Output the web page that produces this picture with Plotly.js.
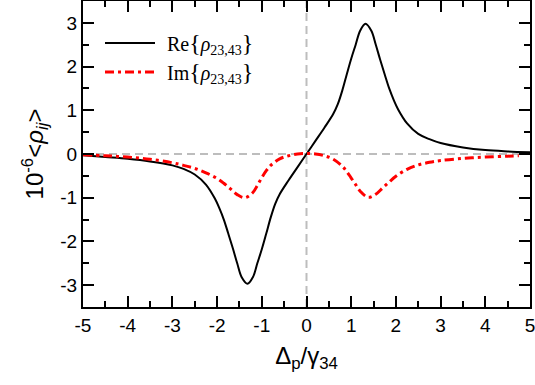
<!DOCTYPE html>
<html>
<head>
<meta charset="utf-8">
<script src="https://cdn.plot.ly/plotly-3.0.1.min.js"></script>
<style>
html,body{margin:0;padding:0;background:#fff;}
#chart{width:535px;height:385px;}
</style>
</head>
<body>
<div id="chart"></div>
<script>
// Detuning Δp/γ34 and real part of ρ23,43 (units 1e-6)
const reX = [-5, -4.5, -4, -3.5, -3, -2.75, -2.5, -2.25, -2.05, -1.95, -1.85, -1.75, -1.65, -1.55, -1.45, -1.32, -1.2, -1.1, -1.0, -0.9, -0.8, -0.7, -0.6, -0.4, -0.2, 0, 0.2, 0.4, 0.6, 0.7, 0.8, 0.9, 1.0, 1.1, 1.2, 1.32, 1.45, 1.55, 1.65, 1.75, 1.85, 1.95, 2.05, 2.25, 2.5, 2.75, 3, 3.5, 4, 4.5, 5];
const reY = [-0.03, -0.07, -0.11, -0.17, -0.26, -0.34, -0.47, -0.70, -1.02, -1.24, -1.50, -1.82, -2.15, -2.50, -2.82, -2.97, -2.82, -2.50, -2.18, -1.82, -1.45, -1.14, -0.92, -0.60, -0.30, 0, 0.30, 0.60, 0.92, 1.14, 1.45, 1.82, 2.18, 2.50, 2.82, 2.98, 2.82, 2.50, 2.15, 1.82, 1.50, 1.24, 1.02, 0.70, 0.46, 0.34, 0.25, 0.15, 0.09, 0.06, 0.04];

// Imaginary part of ρ23,43 (units 1e-6)
const imX = [-5, -4.5, -4, -3.5, -3, -2.75, -2.5, -2.25, -2.0, -1.85, -1.7, -1.55, -1.38, -1.2, -1.1, -1.0, -0.9, -0.8, -0.6, -0.4, -0.2, 0, 0.2, 0.4, 0.6, 0.8, 0.9, 1.0, 1.1, 1.2, 1.38, 1.55, 1.7, 1.85, 2.0, 2.25, 2.5, 2.75, 3.0, 3.5, 4.0, 4.5, 4.75];
const imY = [-0.02, -0.04, -0.07, -0.12, -0.20, -0.26, -0.33, -0.43, -0.56, -0.67, -0.80, -0.93, -1.00, -0.88, -0.72, -0.54, -0.38, -0.26, -0.11, -0.04, 0.0, 0.01, 0.0, -0.04, -0.12, -0.28, -0.40, -0.55, -0.70, -0.85, -0.99, -0.92, -0.78, -0.64, -0.51, -0.35, -0.25, -0.19, -0.15, -0.10, -0.07, -0.05, -0.04];

const xTickVals = [-5, -4, -3, -2, -1, 0, 1, 2, 3, 4, 5];
const xTickText = ['-5', '-4', '-3', '-2', '-1', '0', '1', '2', '3', '4', '5'];
const yTickVals = [-3, -2, -1, 0, 1, 2, 3];
const yTickText = ['-3', '-2', '-1', '0', '1', '2', '3'];

const reName = 'Re<span style="font-size:24px">{</span><i>ρ</i><sub>23,43</sub><span style="font-size:24px">}</span>';
const imName = 'Im<span style="font-size:24px">{</span><i>ρ</i><sub>23,43</sub><span style="font-size:24px">}</span>';

const traces = [
  {x: reX, y: reY, type: 'scatter', mode: 'lines', name: reName,
   line: {color: '#000000', width: 2, shape: 'spline', smoothing: 1}},
  {x: imX, y: imY, type: 'scatter', mode: 'lines', name: imName,
   line: {color: '#ff0000', width: 3, dash: '9px,4px,3px,4px', shape: 'spline', smoothing: 1}}
];

const axisCommon = {
  showline: true, linecolor: '#000', linewidth: 2, mirror: 'ticks',
  ticks: 'inside', ticklen: 11, tickwidth: 2, tickcolor: '#000',
  showgrid: false, zeroline: false, ticklabeloverflow: 'allow',
  tickfont: {family: 'Arial, "Liberation Sans", sans-serif', size: 19, color: '#000'},
  minor: {ticks: 'inside', ticklen: 6, tickwidth: 2, tickcolor: '#000', dtick: 0.5, showgrid: false}
};

const layout = {
  width: 535, height: 385,
  margin: {l: 83, r: 5, t: 1, b: 78},
  paper_bgcolor: '#fff', plot_bgcolor: '#fff',
  showlegend: true,
  legend: {x: 0.03, y: 0.97, xanchor: 'left', yanchor: 'top', bgcolor: 'rgba(0,0,0,0)',
           itemwidth: 50, tracegroupgap: 0,
           font: {family: '"Liberation Serif", "Times New Roman", serif', size: 20, color: '#000'}},
  xaxis: Object.assign({}, axisCommon, {
    range: [-5, 5], tickvals: xTickVals, ticktext: xTickText,
    title: {text: 'Δ<sub>p</sub>/γ<sub>34</sub>', standoff: 12,
            font: {family: 'Arial, "Liberation Sans", sans-serif', size: 24, color: '#000'}}
  }),
  yaxis: Object.assign({}, axisCommon, {
    range: [-3.5, 3.5], tickvals: yTickVals, ticktext: yTickText,
    title: {text: '10<sup>-6</sup><<i>ρ<sub>ij</sub></i>>', standoff: 10,
            font: {family: 'Arial, "Liberation Sans", sans-serif', size: 24, color: '#000'}}
  }),
  shapes: [
    {type: 'line', xref: 'x', yref: 'y', x0: -5, x1: 5, y0: 0, y1: 0, layer: 'below',
     line: {color: '#bdbdbd', width: 2, dash: '8px,5px'}},
    {type: 'line', xref: 'x', yref: 'y', x0: 0, x1: 0, y0: -3.5, y1: 3.5, layer: 'below',
     line: {color: '#bdbdbd', width: 2, dash: '8px,5px'}}
  ]
};

Plotly.newPlot('chart', traces, layout, {displayModeBar: false, staticPlot: true}).then(function (gd) {
  const leg = gd.querySelector('g.legend');
  if (!leg) return;
  leg.querySelectorAll('[clip-path]').forEach(function (e) { e.removeAttribute('clip-path'); });
  const items = leg.querySelectorAll('g.traces');
  items.forEach(function (g, i) {
    const line = g.querySelector('path.js-line');
    const txt = g.querySelector('text.legendtext');
    if (line) line.setAttribute('d', 'M0,0h50');
    if (txt) txt.setAttribute('x', 62);
    g.setAttribute('transform', 'translate(0,' + (i * 29) + ')');
  });
  const first = items[0] && items[0].querySelector('path.js-line');
  if (!first) return;
  const r = first.getBoundingClientRect();
  const gr = gd.getBoundingClientRect();
  const m = /translate\(\s*([-\d.]+)[ ,]+([-\d.]+)\s*\)/.exec(leg.getAttribute('transform') || '');
  const tx = m ? parseFloat(m[1]) : 0, ty = m ? parseFloat(m[2]) : 0;
  const dx = 105 - (r.left - gr.left);
  const dy = 43 - ((r.top + r.bottom) / 2 - gr.top);
  leg.setAttribute('transform', 'translate(' + (tx + dx) + ',' + (ty + dy) + ')');
});
</script>
</body>
</html>
